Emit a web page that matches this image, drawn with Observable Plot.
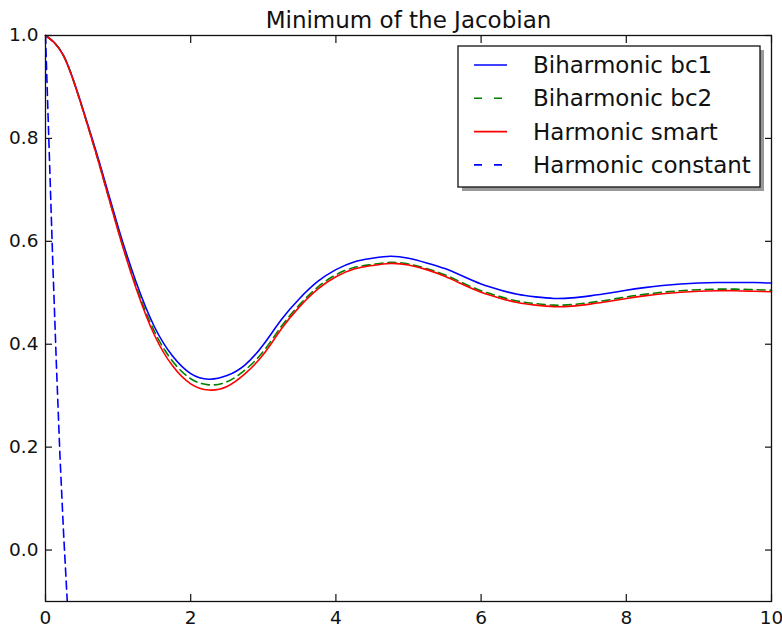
<!DOCTYPE html>
<html><head><meta charset="utf-8">
<script src="https://cdn.jsdelivr.net/npm/d3@7"></script>
<script src="https://cdn.jsdelivr.net/npm/@observablehq/plot@0.6"></script>
<style>body{margin:0;background:#fff} #chart svg{font-family:"DejaVu Sans",sans-serif;background:#fff;overflow:visible}</style>
</head><body><div id="chart"></div>
<script>
const title = "Minimum of the Jacobian";
const seriesNames = ["Biharmonic bc1", "Biharmonic bc2", "Harmonic smart", "Harmonic constant"];
const xs = [0,0.25,0.5,0.75,1,1.25,1.5,1.75,2,2.25,2.5,2.75,3,3.25,3.5,3.75,4,4.25,4.5,4.75,5,5.25,5.5,5.75,6,6.25,6.5,6.75,7,7.25,7.5,7.75,8,8.25,8.5,8.75,9,9.25,9.5,9.75,10];
const bc1 = [1.0,0.961,0.864,0.75,0.628,0.520,0.434,0.377,0.343,0.332,0.339,0.360,0.399,0.448,0.489,0.522,0.545,0.560,0.567,0.571,0.567,0.558,0.547,0.532,0.517,0.506,0.497,0.492,0.489,0.490,0.494,0.499,0.505,0.510,0.514,0.517,0.519,0.520,0.520,0.520,0.519];
const bc2 = [1.0,0.96,0.862,0.745,0.622,0.512,0.425,0.367,0.333,0.321,0.327,0.350,0.386,0.435,0.477,0.511,0.535,0.549,0.555,0.559,0.556,0.547,0.535,0.519,0.504,0.493,0.484,0.479,0.476,0.477,0.481,0.486,0.492,0.497,0.501,0.504,0.506,0.507,0.507,0.506,0.505];
const smart = [1.0,0.96,0.862,0.745,0.620,0.508,0.418,0.358,0.323,0.311,0.318,0.343,0.380,0.430,0.473,0.507,0.531,0.546,0.553,0.557,0.554,0.545,0.532,0.516,0.501,0.490,0.481,0.476,0.473,0.474,0.478,0.483,0.489,0.494,0.498,0.501,0.503,0.504,0.504,0.503,0.502];
const constX = [0,0.05,0.1,0.15,0.2,0.25,0.3,0.35];
const constY = [1.0,0.78,0.56,0.36,0.18,0.03,-0.1,-0.22];
const xTicks = [0,2,4,6,8,10];
const yTicks = [0,0.2,0.4,0.6,0.8,1.0];
const colors = ["#0000ff","#008000","#ff0000","#0000ff"];
const dashes = [null,"8,5",null,"8,5"];

const rows = (ys, name) => xs.map((x,i)=>({x, y: ys[i], name}));
const dBc1 = rows(bc1, seriesNames[0]);
const dBc2 = rows(bc2, seriesNames[1]);
const dSmart = rows(smart, seriesNames[2]);
const dConst = constX.map((x,i)=>({x, y: constY[i], name: seriesNames[3]}));

const W = 782, H = 629;
const fmt = d3.format(".1f");
const axisCommon = {stroke:"#111", strokeWidth:1.2, fontSize:18.5, fill:"#111"};

const chart = Plot.plot({
  width: W, height: H,
  marginLeft: 45, marginRight: 11, marginTop: 35, marginBottom: 28,
  style: {fontFamily: "DejaVu Sans", fontSize: "18.5px", color: "#111"},
  x: {domain: [0, 10]},
  y: {domain: [-0.1, 1.0]},
  marks: [
    Plot.line(dBc1, {x:"x", y:"y", stroke: colors[0], strokeWidth:1.6, curve:"natural"}),
    Plot.line(dBc2, {x:"x", y:"y", stroke: colors[1], strokeWidth:1.6, strokeDasharray: dashes[1], curve:"natural"}),
    Plot.line(dSmart, {x:"x", y:"y", stroke: colors[2], strokeWidth:1.6, curve:"natural"}),
    Plot.line(dConst, {x:"x", y:"y", stroke: colors[3], strokeWidth:1.6, strokeDasharray: dashes[3], clip:true}),
    Plot.axisX({anchor:"bottom", ticks:xTicks, tickSize:-7, tickPadding:16, tickFormat: d=>String(d), label:null, ...axisCommon}),
    Plot.axisX({anchor:"top", ticks:xTicks, tickSize:-7, tickFormat: ()=>"", label:null, ...axisCommon}),
    Plot.axisY({anchor:"left", ticks:yTicks, tickSize:-7, tickPadding:14, tickFormat: fmt, label:null, ...axisCommon}),
    Plot.axisY({anchor:"right", ticks:yTicks, tickSize:-7, tickFormat: ()=>"", label:null, ...axisCommon}),
    Plot.frame({stroke:"#111", strokeWidth:1.3}),
    Plot.text([title], {frameAnchor:"top", dy:-8, lineAnchor:"bottom", fontSize:23, fill:"#111"})
  ]
});
document.getElementById("chart").appendChild(chart);

// Legend (matplotlib style box with shadow)
const svg = d3.select(chart);
const lg = svg.append("g").attr("class","legend").attr("text-anchor","start");
const bx = 458, by = 46, bw = 302, bh = 141;
lg.append("rect").attr("x", bx+4).attr("y", by+4).attr("width", bw).attr("height", bh).attr("fill", "#999");
lg.append("rect").attr("x", bx).attr("y", by).attr("width", bw).attr("height", bh).attr("fill", "#fff").attr("stroke", "#111").attr("stroke-width", 1.3);
seriesNames.forEach((name, i) => {
  const cy = 65 + i*33.3;
  lg.append("line").attr("x1", 474).attr("x2", 507).attr("y1", cy).attr("y2", cy)
    .attr("stroke", colors[i]).attr("stroke-width", 1.6).attr("stroke-dasharray", dashes[i] ? "8,12" : null);
  lg.append("text").attr("x", 533).attr("y", cy).attr("dy", "0.35em").attr("text-anchor","start")
    .attr("font-size", 23).attr("fill", "#111").attr("font-family", "DejaVu Sans").text(name);
});
</script>
</body></html>
